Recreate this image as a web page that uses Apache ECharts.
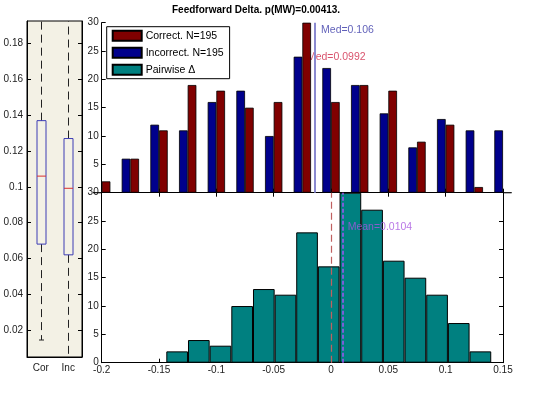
<!DOCTYPE html>
<html><head><meta charset="utf-8">
<script src="https://cdn.jsdelivr.net/npm/echarts@6/dist/echarts.min.js"></script>
<style>html,body{margin:0;padding:0;background:#fff}#c{width:540px;height:395px}</style>
</head><body><div id="c"></div>
<script>
// ---- data ----
const chartTitle = 'Feedforward Delta. p(MW)=0.00413.';
const boxCategories = ['Cor', 'Inc'];
// [lowWhisker, q1, median, q3, highWhisker]
const corBox = [0.0144, 0.068, 0.106, 0.137, 0.23];
const incBox = [0.002, 0.062, 0.0992, 0.127, 0.23];
const boxTicks = [0.02, 0.04, 0.06, 0.08, 0.1, 0.12, 0.14, 0.16, 0.18];

const groupCenters = [-0.2, -0.175, -0.15, -0.125, -0.1, -0.075, -0.05, -0.025, 0, 0.025, 0.05, 0.075, 0.1, 0.125, 0.15];
const incorrectCounts = [0, 6, 12, 11, 16, 18, 10, 24, 22, 19, 14, 8, 13, 11, 11];
const correctCounts = [2, 6, 11, 19, 18, 15, 16, 30, 16, 19, 18, 9, 12, 1, 0];

const deltaCenters = [-0.1342, -0.1153, -0.0964, -0.0775, -0.0586, -0.0397, -0.0209, -0.0020, 0.0169, 0.0358, 0.0547, 0.0736, 0.0925, 0.1114, 0.1303];
const deltaCounts = [2, 4, 3, 10, 13, 12, 23, 17, 30, 27, 18, 15, 12, 7, 2];

const medianLineX = -0.0124;
const medLabels = [
  { text: 'Med=0.106', x: -0.0087, y: 28.7, color: '#3838a8' },
  { text: 'Med=0.0992', x: -0.021, y: 24.0, color: '#d02848' }
];
const zeroLineX = 0;
const meanValue = 0.0104;
const meanLabel = { text: 'Mean=0.0104', x: 0.0145, y: 24.0 };

// ---- chart ----
const FONT = 'Liberation Sans, Arial, sans-serif';
const chart = echarts.init(document.getElementById('c'), null, { renderer: 'canvas' });
const axisLine = { show: true, onZero: false, lineStyle: { color: '#000', width: 1 } };
const tickIn = { show: true, inside: true, length: 4, lineStyle: { color: '#000' } };
const lbl = { color: '#222', fontSize: 10, fontFamily: FONT };

const gL = 101.7, gW = 401.3;

const option = {
  animation: false,
  backgroundColor: '#fff',
  title: {
    text: chartTitle, left: 172, top: 5, padding: 0,
    textStyle: { fontSize: 10, fontWeight: 'bold', color: '#000', fontFamily: FONT }
  },
  legend: {
    data: ['Correct. N=195', 'Incorrect. N=195', 'Pairwise Δ'],
    orient: 'vertical', left: 106.7, top: 26.7,
    itemWidth: 29, itemHeight: 10, itemGap: 5,
    padding: [3, 6, 3, 5],
    borderColor: '#000', borderWidth: 1, backgroundColor: '#fff',
    icon: 'rect',
    textStyle: { fontSize: 10.5, color: '#000', fontFamily: FONT, padding: [0, 0, 0, -1] },
    selectedMode: false, z: 10
  },
  grid: [
    { left: 27, top: 21, width: 55, height: 336, show: true, backgroundColor: '#f3f1e5', borderColor: '#000', borderWidth: 1, containLabel: false, outerBoundsMode: 'none' },
    { left: gL, top: 22.7, width: gW, height: 170, containLabel: false, outerBoundsMode: 'none' },
    { left: gL, top: 192.7, width: gW, height: 170, containLabel: false, outerBoundsMode: 'none' }
  ],
  xAxis: [
    { gridIndex: 0, type: 'category', data: boxCategories, axisLine, axisTick: { show: false },
      axisLabel: Object.assign({ margin: 6 }, lbl), splitLine: { show: false } },
    { gridIndex: 1, type: 'value', min: -0.2, max: 0.15, interval: 0.05, axisLine, axisTick: tickIn,
      axisLabel: { show: false }, splitLine: { show: false } },
    { gridIndex: 2, type: 'value', min: -0.2, max: 0.15, interval: 0.05, axisLine, axisTick: tickIn,
      axisLabel: Object.assign({ margin: 3 }, lbl), splitLine: { show: false } },
    { gridIndex: 2, type: 'value', position: 'top', min: -0.2, max: 0.15, interval: 0.05, axisLine, axisTick: tickIn,
      axisLabel: { show: false }, splitLine: { show: false } }
  ],
  yAxis: [
    { gridIndex: 0, type: 'value', min: 0.0049, max: 0.1927, axisLine,
      axisTick: Object.assign({ customValues: boxTicks }, tickIn),
      axisLabel: Object.assign({ customValues: boxTicks, margin: 4 }, lbl), splitLine: { show: false } },
    { gridIndex: 0, type: 'value', position: 'right', min: 0.0049, max: 0.1927, axisLine,
      axisTick: Object.assign({ customValues: boxTicks }, tickIn),
      axisLabel: { show: false }, splitLine: { show: false } },
    { gridIndex: 1, type: 'value', min: 0, max: 30, interval: 5, axisLine, axisTick: tickIn,
      axisLabel: Object.assign({ margin: 3, showMinLabel: false }, lbl), splitLine: { show: false } },
    { gridIndex: 2, type: 'value', min: 0, max: 30, interval: 5, axisLine, axisTick: tickIn,
      axisLabel: Object.assign({ margin: 3 }, lbl), splitLine: { show: false } },
    { gridIndex: 2, type: 'value', position: 'right', min: 0, max: 30, interval: 5, axisLine, axisTick: tickIn,
      axisLabel: { show: false }, splitLine: { show: false } }
  ],
  series: [
    {
      type: 'custom', name: 'box', xAxisIndex: 0, yAxisIndex: 0, clip: true,
      data: [[0].concat(corBox), [1].concat(incBox)],
      encode: { x: 0, y: [1, 2, 3, 4, 5] },
      renderItem: function (params, api) {
        const i = api.value(0);
        const pLo = api.coord([i, api.value(1)]);
        const pQ1 = api.coord([i, api.value(2)]);
        const pMed = api.coord([i, api.value(3)]);
        const pQ3 = api.coord([i, api.value(4)]);
        const pHi = api.coord([i, api.value(5)]);
        const cx = Math.round(pQ1[0]) + 0.5, hw = 4.5, cw = 2.5;
        const dash = { stroke: '#222', lineWidth: 1, lineDash: [8, 5] };
        const solid = { stroke: '#222', lineWidth: 1 };
        return {
          type: 'group',
          children: [
            { type: 'line', shape: { x1: cx, y1: pQ1[1], x2: cx, y2: pLo[1] }, style: dash },
            { type: 'line', shape: { x1: cx, y1: pQ3[1], x2: cx, y2: pHi[1] }, style: dash },
            { type: 'line', shape: { x1: cx - cw, y1: pLo[1], x2: cx + cw, y2: pLo[1] }, style: solid },
            { type: 'line', shape: { x1: cx - cw, y1: pHi[1], x2: cx + cw, y2: pHi[1] }, style: solid },
            { type: 'rect', shape: { x: cx - hw, y: pQ3[1], width: hw * 2, height: pQ1[1] - pQ3[1] },
              style: { fill: 'none', stroke: '#3c3cb4', lineWidth: 1 } },
            { type: 'line', shape: { x1: cx - hw, y1: pMed[1], x2: cx + hw, y2: pMed[1] },
              style: { stroke: '#d83030', lineWidth: 1 } }
          ]
        };
      }
    },
    {
      type: 'scatter', name: 'medtext', xAxisIndex: 1, yAxisIndex: 2, z: 1, symbolSize: 0, silent: true,
      data: medLabels.map(m => ({ value: [m.x, m.y], label: { formatter: m.text, color: m.color } })),
      label: { show: true, position: 'right', distance: 0, fontSize: 10.5, fontFamily: FONT }
    },
    {
      type: 'bar', name: 'Incorrect. N=195', xAxisIndex: 1, yAxisIndex: 2, z: 2,
      data: groupCenters.map((x, i) => [x, incorrectCounts[i]]),
      barWidth: 8.67, barGap: '0%',
      itemStyle: { color: '#00008c', borderColor: '#000', borderWidth: 0.8 },
      markLine: {
        silent: true, symbol: 'none', label: { show: false },
        lineStyle: { color: '#8a8ad0', width: 2, type: 'solid' },
        data: [{ xAxis: medianLineX }]
      }
    },
    {
      type: 'bar', name: 'Correct. N=195', xAxisIndex: 1, yAxisIndex: 2, z: 2,
      data: groupCenters.map((x, i) => [x, correctCounts[i]]),
      barWidth: 8.67, barGap: '0%',
      itemStyle: { color: '#800000', borderColor: '#000', borderWidth: 0.8 }
    },
    {
      type: 'bar', name: 'Pairwise Δ', xAxisIndex: 2, yAxisIndex: 3, z: 2,
      data: deltaCenters.map((x, i) => [x, deltaCounts[i]]),
      barWidth: 21.66,
      itemStyle: { color: '#008080', borderColor: '#000', borderWidth: 1 },
      markLine: {
        silent: true, symbol: 'none', label: { show: false },
        data: [
          { xAxis: zeroLineX, lineStyle: { color: '#c06060', width: 1.2, type: [7, 4] } },
          { xAxis: meanValue, lineStyle: { color: '#9a55ee', width: 1.6, type: [4, 2] } }
        ]
      }
    },
    {
      type: 'scatter', name: 'meantext', xAxisIndex: 2, yAxisIndex: 3, z: 5, symbolSize: 0, silent: true,
      data: [{ value: [meanLabel.x, meanLabel.y], label: { formatter: meanLabel.text } }],
      label: { show: true, position: 'right', distance: 0, fontSize: 10.5, color: '#a855e0', fontFamily: FONT }
    }
  ]
};
chart.setOption(option);
</script>
</body></html>
